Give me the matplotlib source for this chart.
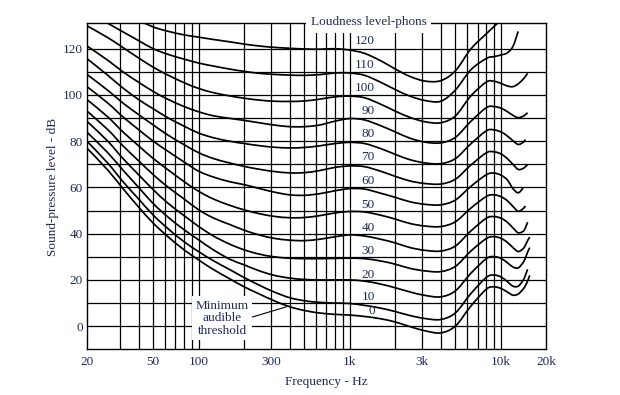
import numpy as np
import matplotlib
matplotlib.use('Agg')
import matplotlib.pyplot as plt
from matplotlib.path import Path
from matplotlib.patches import PathPatch
from matplotlib.ticker import NullFormatter
import matplotlib.transforms as mtransforms

nan = np.nan

# frequencies (Hz) the curves were read at
freqs = [18.2, 25, 31.5, 40, 50, 63, 80, 100, 125, 160, 200, 250, 315, 400, 500, 630, 800, 1000,
         1250, 1600, 2000, 2500, 3150, 4000, 5000, 6300, 8000, 9000, 10000, 11000, 12000, 13000,
         14000, 14500, 15000, 15500]

# sound-pressure level (dB) of each equal-loudness contour
phon_0 = [77, 67.5, 59.5, 51.5, 44.5, 38.5, 33, 28.6, 24.5, 20.5, 17, 14, 11, 8.4, 6.8, 5.7, 5.1, 4.8,
          4.2, 3.2, 1.8, -0.2, -2, -2.9, 0.1, 8.6, 16, 17, 16.3, 14.8, 13.4, 13.9, 16, 17.5, 19.5, 22]
phon_10 = [80, 70.5, 62.5, 55, 48, 42, 36.5, 32.2, 28.3, 24.5, 21, 17.8, 14.8, 12.3, 11, 10.3, 10, 9.8,
           9, 7.8, 6.3, 4.6, 3.3, 2.9, 5.8, 14, 21.1, 22.1, 21.3, 19.3, 17.3, 17.3, 19.8, 22, 24.6, nan]
phon_20 = [83.9, 75, 67.5, 60, 53, 47, 41.7, 37.3, 33, 29, 26.5, 24, 22, 20.8, 20.2, 20, 20, 20,
           19.5, 18.2, 16.6, 14.8, 13.3, 12.7, 15.3, 22.8, 29.2, 30.1, 29.3, 27.5, 25.6, 25.2, 27.5, 29.5, 32, 34]
phon_30 = [88.6, 80, 72.5, 65.5, 59, 53, 47.8, 43.1, 39, 35.5, 33, 31.2, 30, 29.4, 29.2, 29.2, 29.3, 29.4,
           29.2, 28.2, 26.8, 25, 23.9, 23.6, 25.9, 32.4, 37.9, 38.7, 38, 36.3, 34, 32.3, 33.5, 35, 37, 38.5]
phon_40 = [93, 85, 78, 71.5, 65.5, 60, 55, 50.3, 46.8, 44, 41.5, 39.5, 38, 37.2, 37, 37.6, 38.7, 39.5,
           39, 37.6, 36, 34, 32.8, 32.5, 34.7, 41.1, 46.7, 47.4, 46.7, 45, 42.5, 40.4, 41, 42.5, 45, nan]
phon_50 = [98, 90.5, 84, 78, 72.5, 67.5, 62.5, 58.3, 55, 52.3, 50.3, 48.7, 47.5, 46.9, 47, 47.8, 49, 49.6,
           49.4, 48, 46.3, 44.4, 43.3, 43.1, 45.2, 51, 56.1, 56.8, 56, 54.3, 51.8, 49.7, 50.8, 52, nan, nan]
phon_60 = [103.6, 96.5, 90.5, 85, 80, 75.5, 71, 67, 64.5, 62.5, 61.2, 59.6, 58, 56.8, 56.6, 57.3, 58.6, 59.5,
           59.3, 57.5, 55.7, 53.8, 52.7, 52.5, 54.6, 60.4, 65.5, 66.2, 65.3, 63.3, 59.5, 57.7, 59.7, nan, nan, nan]
phon_70 = [108.9, 102, 96.5, 91.5, 87, 82.5, 78.5, 75, 72.5, 70.6, 69.1, 67.9, 66.9, 66.3, 66.4, 67.3, 68.7, 69.3,
           69, 67, 64.8, 62.8, 61.7, 61.5, 63.6, 69.6, 75, 75.4, 74.5, 72.5, 70, 67.8, 68.2, 69, 69.8, nan]
phon_80 = [115.7, 108.5, 103, 98, 94, 90, 86.5, 83.5, 81.5, 80, 79, 78.1, 77.4, 77.1, 77.3, 78, 79, 79.5,
           79, 76.8, 74.3, 72, 70.6, 70.3, 72.5, 78.8, 84.5, 84.9, 84, 82.3, 80.2, 78.6, 79.5, 80.7, nan, nan]
phon_90 = [121.2, 115, 110, 105.5, 101.5, 98, 95, 92.7, 91, 89.9, 89, 88, 87, 86.3, 86.3, 87, 88.7, 89.8,
           89.2, 86.7, 84, 81.3, 79.6, 79.3, 81.7, 88.5, 94.5, 95, 94.3, 92.8, 91.2, 90.2, 90.8, 91.5, 92.3, nan]
phon_100 = [129.9, 124.8, 120.5, 116, 112, 108.5, 105.3, 102.8, 101, 99.6, 98.6, 97.8, 97.3, 97.2, 97.4, 98.2, 99.2, 99.5,
            98.8, 96, 93, 90.3, 88.4, 88, 91, 99.5, 105.6, 105.9, 105, 103.9, 103.6, 104.8, 106.8, 108, 109.4, nan]
phon_110 = [136, 131, 127.3, 123.5, 120, 117.5, 115.5, 113.8, 112.5, 111.2, 110.2, 109.4, 108.9, 108.6, 108.5, 108.8, 109.5, 109.5,
            108.5, 105.5, 102.3, 99.5, 97.6, 97.3, 102.2, 110.8, 115.8, 116.6, 117.3, 118.2, 121, 127.5, nan, nan, nan, nan]
phon_120 = [nan, nan, nan, 132.3, 129.4, 127.5, 126, 125, 124, 123, 122, 121.2, 120.6, 120.2, 119.9, 119.8, 120, 119.4,
            118, 114.8, 111.2, 108, 106, 106.2, 110.5, 119.8, 126.5, 129.6, 132.5, nan, nan, nan, nan, nan, nan, nan]

phons = [0, 10, 20, 30, 40, 50, 60, 70, 80, 90, 100, 110, 120]
curves = [phon_0, phon_10, phon_20, phon_30, phon_40, phon_50, phon_60,
          phon_70, phon_80, phon_90, phon_100, phon_110, phon_120]

grid_freqs = [30, 40, 50, 60, 70, 80, 90, 100, 200, 300, 400, 500, 600, 700, 800, 900,
              1000, 2000, 3000, 4000, 5000, 6000, 7000, 8000, 9000, 10000]
grid_levels = [0, 10, 20, 30, 40, 50, 60, 70, 80, 90, 100, 110, 120]
tick_freqs = [18.2, 50, 100, 300, 1000, 3000, 10000, 20000]
tick_labels = ['20', '50', '100', '300', '1k', '3k', '10k', '20k']
tick_levels = [0, 20, 40, 60, 80, 100, 120]

# where the phon numbers sit (dB)
label_levels = [6.6, 12.7, 22.1, 32.7, 42.6, 52.5, 62.6, 73, 83.2, 93, 103, 112.9, 123.4]

navy = '#1f2b57'
plt.rcParams['font.family'] = ['Liberation Serif', 'DejaVu Serif']
plt.rcParams['font.size'] = 9.5


def curve_path(fs, levels):
    # smooth bezier through the read points, built in log-frequency space
    p = np.array([(np.log10(f), v) for f, v in zip(fs, levels) if not np.isnan(v)])
    n = len(p)
    verts = [p[0]]
    codes = [Path.MOVETO]
    for i in range(n - 1):
        p0 = p[max(i - 1, 0)]
        p1 = p[i]
        p2 = p[i + 1]
        p3 = p[min(i + 2, n - 1)]
        verts += [p1 + (p2 - p0) / 6, p2 - (p3 - p1) / 6, p2]
        codes += [Path.CURVE4] * 3
    verts = np.array(verts)
    verts[:, 0] = 10 ** verts[:, 0]
    return Path(verts, codes)


fig = plt.figure(figsize=(6.2, 3.95), dpi=100)
ax = fig.add_axes([0.1403, 0.1157, 0.7411, 0.8253])
ax.set_xscale('log')
ax.set_xlim(18.2, 20000)
ax.set_ylim(-10, 131)

ax.set_xticks(tick_freqs, labels=tick_labels)
ax.xaxis.set_minor_formatter(NullFormatter())
ax.set_xticks([], minor=True)
ax.set_yticks(tick_levels)
ax.tick_params(which='both', length=0, labelcolor=navy)
ax.tick_params(axis='x', pad=5)
ax.tick_params(axis='y', pad=3)
for s in ax.spines.values():
    s.set_linewidth(1.0)

# chart grid
for f in grid_freqs:
    ax.axvline(f, color='black', linewidth=0.9, zorder=0.5)
for g in grid_levels:
    ax.axhline(g, color='black', linewidth=0.9, zorder=0.5)

for lev in curves:
    ax.add_patch(PathPatch(curve_path(freqs, lev), fill=False, edgecolor='black', linewidth=1.25))

for ph, y in zip(phons, label_levels):
    ax.text(1460, y, str(ph), ha='right', va='center', color=navy)

trans = mtransforms.blended_transform_factory(ax.transData, ax.transAxes)
ax.text(1336, 1.004, 'Loudness level-phons', transform=trans, ha='center', va='center',
        color=navy, clip_on=False,
        bbox=dict(boxstyle='square,pad=0.35', facecolor='white', edgecolor='none'))

ax.annotate('Minimum\naudible\nthreshold', xy=(381, 8.4), xytext=(143, 3.5),
            ha='center', va='center', color=navy, linespacing=1.05,
            bbox=dict(boxstyle='square,pad=0.25', facecolor='white', edgecolor='none'),
            arrowprops=dict(arrowstyle='-', color='black', linewidth=0.8,
                            relpos=(1.0, 0.5), shrinkA=0, shrinkB=0))

fig.text(53.5 / 620, 1 - 187 / 395, 'Sound-pressure level - dB', rotation=90,
         ha='center', va='center', color=navy)
fig.text(326 / 620, 1 - 381.7 / 395, 'Frequency - Hz', ha='center', va='center', color=navy)

fig.savefig('out.png', dpi=100)
